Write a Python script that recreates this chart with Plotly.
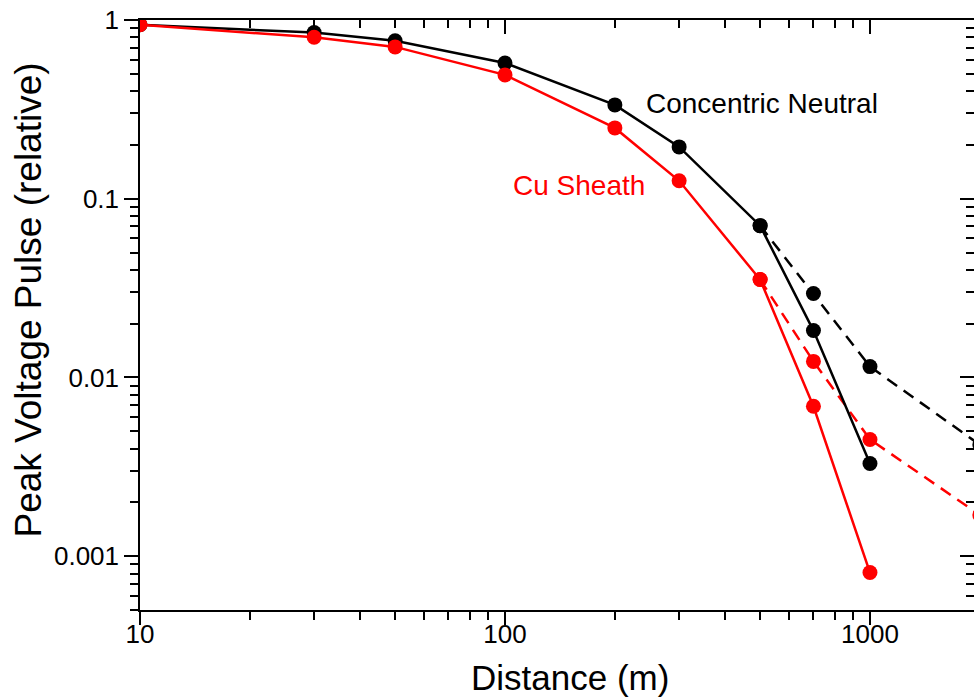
import math
import plotly.graph_objects as go

# Distance from the source (m)
distance = [10, 30, 50, 100, 200, 300, 500, 700, 1000]
distance_ext = [500, 700, 1000, 2000]

# Peak voltage pulse, relative to the value at the source
cn_solid = [0.94, 0.85, 0.765, 0.575, 0.335, 0.195, 0.0707, 0.0183, 0.0033]
cu_solid = [0.94, 0.80, 0.707, 0.493, 0.249, 0.126, 0.0353, 0.0069, 0.00081]
cn_dashed = [0.0707, 0.0295, 0.0115, 0.0042]
cu_dashed = [0.0353, 0.0123, 0.0045, 0.0017]

x_major = [10, 100, 1000]
x_minor = [m * d for d in (10, 100, 1000) for m in range(2, 10)]
y_major = [1, 0.1, 0.01, 0.001]
y_major_text = ["1", "0.1", "0.01", "0.001"]
y_minor = [m * d for d in (0.0001, 0.001, 0.01, 0.1) for m in range(2, 10)]

BLACK = "#000000"
RED = "#ff0000"
FONT = "Liberation Sans, Arial, Helvetica, sans-serif"

x_range = [1, 3.285]
y_range = [math.log10(0.0005), 0]

fig = go.Figure()


def add_series(xs, ys, color, dash):
    fig.add_trace(go.Scatter(
        x=xs, y=ys, mode="lines+markers",
        line=dict(color=color, width=2.5, dash=dash),
        marker=dict(color=color, size=15),
        showlegend=False,
    ))


add_series(distance_ext, cn_dashed, BLACK, "12px,8px")
add_series(distance_ext, cu_dashed, RED, "12px,8px")
add_series(distance, cn_solid, BLACK, "solid")
add_series(distance, cu_solid, RED, "solid")

# invisible traces to carry the extra tick-only axes
for xa, ya in (("x2", "y2"), ("x3", "y")):
    fig.add_trace(go.Scatter(x=[100], y=[0.01], xaxis=xa, yaxis=ya,
                             mode="markers", marker=dict(opacity=0),
                             showlegend=False, hoverinfo="skip"))

axis_common = dict(
    type="log", showgrid=False, zeroline=False,
    showline=True, linecolor=BLACK, linewidth=1.5,
    tickcolor=BLACK, tickwidth=1.5,
    tickfont=dict(family=FONT, size=26, color=BLACK),
)


def minor_ticks(vals, side):
    return dict(tickmode="array", tickvals=vals, ticklen=8, ticks=side,
                tickcolor=BLACK, tickwidth=1.5)


fig.update_layout(
    width=974, height=698,
    margin=dict(l=140, r=0, t=20, b=88),
    paper_bgcolor="white", plot_bgcolor="white",
    # bottom axis: labels only (tick marks come from xaxis3)
    xaxis=dict(
        **axis_common, range=x_range,
        tickmode="array", tickvals=x_major, ticktext=["10", "100", "1000"],
        ticks="", ticklen=0, ticklabelstandoff=0,
    ),
    xaxis3=dict(
        **axis_common, range=x_range, overlaying="x", anchor="y", side="bottom",
        tickmode="array", tickvals=x_major, ticks="outside", ticklen=13,
        showticklabels=False, minor=minor_ticks(x_minor, "outside"),
    ),
    yaxis=dict(
        **axis_common, range=y_range,
        tickmode="array", tickvals=y_major, ticktext=y_major_text,
        ticks="outside", ticklen=14, minor=minor_ticks(y_minor, "outside"),
    ),
    xaxis2=dict(
        **axis_common, range=x_range, overlaying="x", anchor="y", side="top",
        tickmode="array", tickvals=x_major, ticks="inside", ticklen=14,
        showticklabels=False, minor=minor_ticks(x_minor, "inside"),
    ),
    yaxis2=dict(
        **axis_common, range=y_range, overlaying="y", anchor="x", side="right",
        tickmode="array", tickvals=y_major, ticks="inside", ticklen=14,
        showticklabels=False, minor=minor_ticks(y_minor, "inside"),
    ),
    annotations=[
        # axis titles
        dict(x=0.5156, y=-0.1136, xref="paper", yref="paper",
             text="Distance (m)", showarrow=False, xanchor="center",
             yanchor="middle", font=dict(family=FONT, size=35, color=BLACK)),
        dict(x=-0.134, y=0.525, xref="paper", yref="paper", textangle=-90,
             text="Peak Voltage Pulse (relative)", showarrow=False,
             xanchor="center", yanchor="middle",
             font=dict(family=FONT, size=37, color=BLACK)),
        # series labels
        dict(x=math.log10(240), y=math.log10(0.339), xref="x", yref="y",
             text="Concentric Neutral", showarrow=False, xanchor="left",
             yanchor="middle", font=dict(family=FONT, size=28, color=BLACK)),
        dict(x=math.log10(104), y=math.log10(0.119), xref="x", yref="y",
             text="Cu Sheath", showarrow=False, xanchor="left",
             yanchor="middle", font=dict(family=FONT, size=28, color=RED)),
    ],
)

fig.write_html("out.html")
